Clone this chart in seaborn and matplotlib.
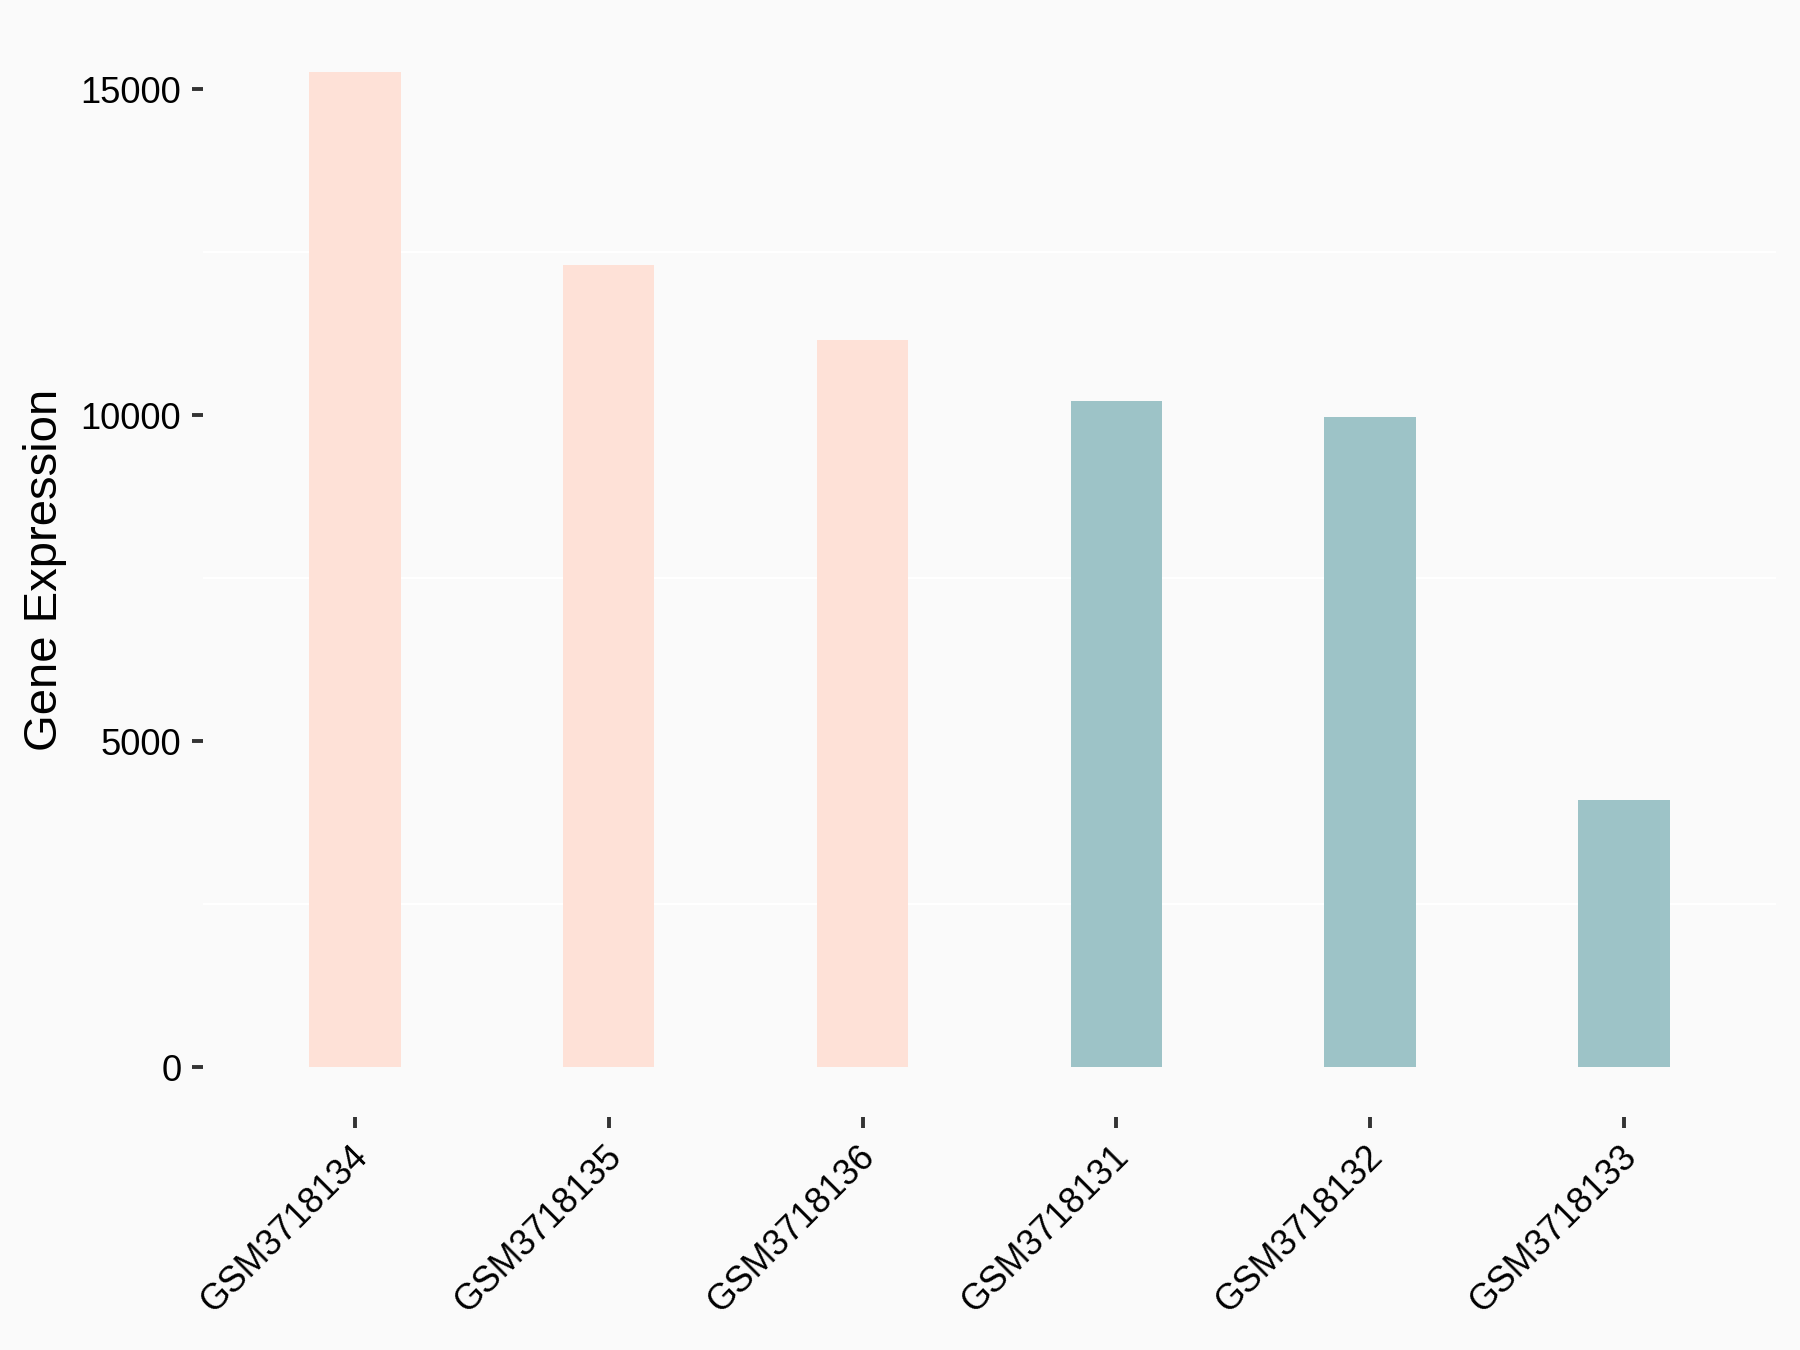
import matplotlib
matplotlib.use("Agg")
import matplotlib.pyplot as plt
import matplotlib.transforms as mtransforms
import seaborn as sns
import pandas as pd

samples = ["GSM3718134", "GSM3718135", "GSM3718136", "GSM3718131", "GSM3718132", "GSM3718133"]
expression = [15265, 12310, 11160, 10220, 9965, 4105]
groups = ["A", "A", "A", "B", "B", "B"]
group_colors = {"A": "#FEE1D7", "B": "#9DC3C7"}
y_ticks = [0, 5000, 10000, 15000]
minor_grid = [2500, 7500, 12500]

sns.set_theme(style="white")
plt.rcParams["font.family"] = ["Liberation Sans", "DejaVu Sans"]

df = pd.DataFrame({"sample": samples, "expr": expression, "group": groups})

fig = plt.figure(figsize=(9, 6.75), dpi=200, facecolor="#FAFAFA")
ax = fig.add_axes([0.1126, 0.1726, 0.8742, 0.9836 - 0.1726])
ax.set_facecolor("#FAFAFA")

sns.barplot(data=df, x="sample", y="expr", hue="group", palette=group_colors,
            order=samples, dodge=False, width=0.36, saturation=1,
            legend=False, ax=ax, linewidth=0)

top = max(expression) * 1.05
ax.set_xlim(-0.6, len(samples) - 0.4)
ax.set_ylim(-max(expression) * 0.05, top)

for g in minor_grid:
    ax.axhline(g, color="white", lw=0.8, zorder=0)

for s in ax.spines.values():
    s.set_visible(False)

ax.set_yticks(y_ticks)
ax.set_yticklabels([str(v) for v in y_ticks])
ax.tick_params(axis="both", which="major", length=4, width=1.4, color="#333333",
               labelcolor="black", left=True, bottom=True)
ax.tick_params(axis="y", labelsize=13.1, pad=3.7)
ax.tick_params(axis="x", labelsize=12.9, pad=4.1)
ax.set_xticks(range(len(samples)))
ax.set_xticklabels(samples, rotation=45, ha="right", va="top", rotation_mode="anchor")
shift = mtransforms.ScaledTranslation(-5 / 200, 0, fig.dpi_scale_trans)
for lab in ax.get_xticklabels():
    lab.set_transform(lab.get_transform() + shift)

ax.set_xlabel("")
ax.set_ylabel("Gene Expression", fontsize=17, color="black", labelpad=4.7)

fig.savefig("out.png", dpi=200, facecolor="#FAFAFA")
